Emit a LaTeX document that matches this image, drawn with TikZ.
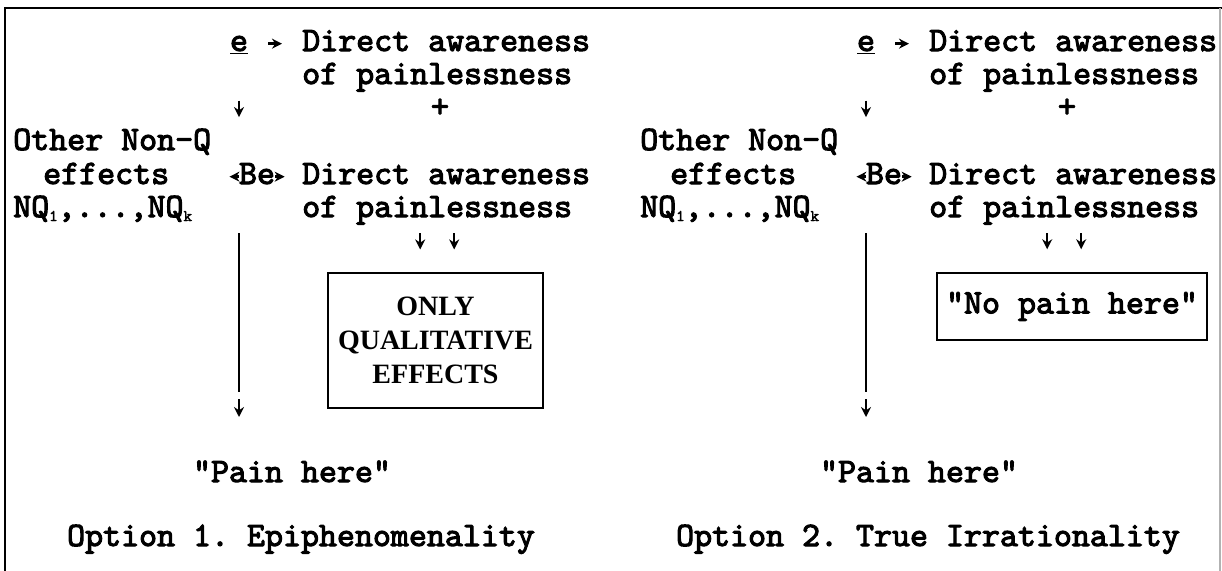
\documentclass[tikz,border=0pt]{standalone}
\usepackage{fontspec}
\newfontfamily\boxserif{Liberation Serif}
\newfontfamily\twfont{lmmono10-regular.otf}[FakeBold=3]
\usetikzlibrary{arrows.meta,positioning}
\newcommand{\nqsub}[1]{\raisebox{-3pt}{\fontsize{12pt}{12pt}\selectfont #1}}
\frenchspacing

\begin{document}
\begin{tikzpicture}[x=0.75pt,y=-0.75pt]
\tikzstyle{txt}=[inner sep=0pt, text height=15pt, text depth=4pt, font=\twfont\fontsize{25.7pt}{24.75pt}\selectfont]
\tikzstyle{tarrow}=[line width=1.8pt, -{Stealth[length=7.5pt,width=7.5pt]}]
\tikzstyle{stem}=[line width=2.2pt]
\tikzstyle{effbox}=[draw, line width=1.6pt, inner sep=0pt, align=center]

\useasboundingbox (0,0) rectangle (1222,571);
\draw[line width=1.8pt] (5,571) -- (5,8) -- (1222,8);
\draw[black!30, line width=1pt] (1220,8) -- (1220,571);

\node (e1) [txt, anchor=base] at (239,51) {\underline{e}};
\node (da1) [txt, anchor=base west] at (302,51) {Direct awareness};
\node (pl1) [txt, anchor=base west] at (302,84) {of painlessness};
\node (plus1) [txt, anchor=base] at (440,117) {+};
\node (other1) [txt, anchor=base west] at (13,150) {Other Non-Q};
\node (eff1) [txt, anchor=base west] at (43,184) {effects};
\node (be1) [txt, anchor=base] at (257,184) {Be};
\node (da2) [txt, anchor=base west] at (302,184) {Direct awareness};
\node (nq1) [txt, anchor=base west] at (13,217) {NQ\nqsub{1},...,NQ\nqsub{k}};
\node (pl2) [txt, anchor=base west] at (302,217) {of painlessness};
\node (box1) [effbox, minimum width=161pt, minimum height=101pt, font=\boxserif\fontsize{21pt}{25.5pt}\selectfont\bfseries] at (435.5,340.5) {ONLY\\QUALITATIVE\\EFFECTS};
\node (pain1) [txt, anchor=base] at (292,482) {\textquotedbl Pain here\textquotedbl};
\node (opt1) [txt, anchor=base] at (301,546) {Option 1. Epiphenomenality};
\coordinate (top1) at (239,233);
\coordinate (stop1) at (239,392);
\coordinate (drop1) at (239,399);
\coordinate (tip1) at (239,417);

\node (e2) [txt, anchor=base] at (866,51) {\underline{e}};
\node (da3) [txt, anchor=base west] at (929,51) {Direct awareness};
\node (pl3) [txt, anchor=base west] at (929,84) {of painlessness};
\node (plus2) [txt, anchor=base] at (1067,117) {+};
\node (other2) [txt, anchor=base west] at (640,150) {Other Non-Q};
\node (eff2) [txt, anchor=base west] at (670,184) {effects};
\node (be2) [txt, anchor=base] at (884,184) {Be};
\node (da4) [txt, anchor=base west] at (929,184) {Direct awareness};
\node (nq2) [txt, anchor=base west] at (640,217) {NQ\nqsub{1},...,NQ\nqsub{k}};
\node (pl4) [txt, anchor=base west] at (929,217) {of painlessness};
\node (box2) [effbox, minimum width=202.5pt, minimum height=50.25pt, font=\twfont\fontsize{25.7pt}{24.75pt}\selectfont] at (1072,306.5) {\textquotedbl No pain here\textquotedbl};
\node (pain2) [txt, anchor=base] at (919,482) {\textquotedbl Pain here\textquotedbl};
\node (opt2) [txt, anchor=base] at (928,546) {Option 2. True Irrationality};
\coordinate (top2) at (866,233);
\coordinate (stop2) at (866,392);
\coordinate (drop2) at (866,399);
\coordinate (tip2) at (866,417);

\draw [tarrow, shorten <=15pt, shorten >=15pt] (e1) -- (da1);
\draw [tarrow, shorten <=33pt, shorten >=35pt] (e1) -- (e1 |- be1.north);
\draw [tarrow, shorten >=45pt] (be1) -- (eff1);
\draw [tarrow, shorten >=13pt] (be1) -- (da2);
\draw [tarrow, shorten <=8pt, shorten >=17pt] ([xshift=-12.75pt]pl2.south) -- ([xshift=-12.75pt]pl2.south |- box1.north);
\draw [tarrow, shorten <=8pt, shorten >=17pt] ([xshift=12.75pt]pl2.south) -- ([xshift=12.75pt]pl2.south |- box1.north);
\draw [stem] (top1) -- (stop1);
\draw [tarrow] (drop1) -- (tip1);

\draw [tarrow, shorten <=15pt, shorten >=15pt] (e2) -- (da3);
\draw [tarrow, shorten <=33pt, shorten >=35pt] (e2) -- (e2 |- be2.north);
\draw [tarrow, shorten >=45pt] (be2) -- (eff2);
\draw [tarrow, shorten >=13pt] (be2) -- (da4);
\draw [tarrow, shorten <=8pt, shorten >=17pt] ([xshift=-12.75pt]pl4.south) -- ([xshift=-12.75pt]pl4.south |- box2.north);
\draw [tarrow, shorten <=8pt, shorten >=17pt] ([xshift=12.75pt]pl4.south) -- ([xshift=12.75pt]pl4.south |- box2.north);
\draw [stem] (top2) -- (stop2);
\draw [tarrow] (drop2) -- (tip2);

\end{tikzpicture}
\end{document}
